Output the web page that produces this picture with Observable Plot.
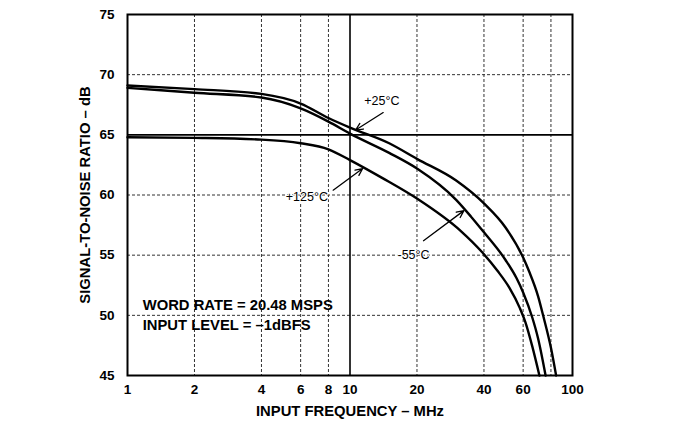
<!DOCTYPE html>
<html>
<head>
<meta charset="utf-8">
<script src="https://cdn.jsdelivr.net/npm/d3@7"></script>
<script src="https://cdn.jsdelivr.net/npm/@observablehq/plot@0.6"></script>
<style>
  html, body { margin: 0; padding: 0; background: #fff; }
  #chart svg { display: block; }
</style>
</head>
<body>
<div id="chart"></div>
<script>
// ---- data ----
const xTicks = [1, 2, 4, 6, 8, 10, 20, 40, 60, 100];
const xGridDashed = [2, 4, 6, 8, 20, 40, 60, 80];
const xGridSolid = [10];
const yTicks = [45, 50, 55, 60, 65, 70, 75];
const yGridDashed = [50, 55, 60, 70];
const yGridSolid = [65];

// +25°C
const freqP25 = [1, 2, 4, 6, 8, 10, 15, 20, 30, 40, 50, 60, 64, 70, 74, 80, 84.4];
const snrP25  = [69.1, 68.8, 68.4, 67.6, 66.4, 65.6, 64.3, 63.0, 61.2, 59.3, 57.3, 54.8, 53.6, 51.6, 49.9, 47.3, 45.0];
// -55°C
const freqM55 = [1, 2, 4, 6, 8, 10, 15, 20, 30, 35, 40, 50, 56, 60, 66, 70, 75.7];
const snrM55  = [68.9, 68.5, 68.1, 67.2, 66.1, 65.1, 63.5, 62.2, 59.6, 58.2, 56.9, 54.6, 53.1, 51.9, 49.8, 48.1, 45.0];
// +125°C
const freqP125 = [1, 2, 4, 6, 8, 10, 14, 20, 31.5, 39, 46, 52, 58, 61.5, 66, 71];
const snrP125  = [64.8, 64.75, 64.6, 64.3, 63.8, 62.9, 61.4, 59.7, 57.0, 55.3, 53.7, 52.3, 50.6, 49.4, 47.4, 45.0];

// annotation texts and anchor points (data units)
const labelTexts = ["+25°C", "+125°C", "-55°C"];
const labelFreq  = [13.9, 6.4, 19.3];
const labelSnr   = [67.85, 59.8, 55.0];
const arrowFrom  = [[14.1, 66.85], [8.4, 60.4], [21.4, 56.2]];
const arrowTo    = [[10.6, 65.4], [11.4, 62.2], [32.5, 58.7]];

const noteLines = ["WORD RATE = 20.48 MSPS", "INPUT LEVEL = –1dBFS"];
const noteFreq = 1.17;
const noteSnr = [50.8, 49.15];

const xTitle = "INPUT FREQUENCY – MHz";
const yTitle = "SIGNAL-TO-NOISE RATIO – dB";

// ---- tables ----
const toRows = (fs, vs) => fs.map((f, i) => ({f, v: vs[i]}));
const series = [toRows(freqP25, snrP25), toRows(freqM55, snrM55), toRows(freqP125, snrP125)];
const labels = labelTexts.map((t, i) => ({t, f: labelFreq[i], v: labelSnr[i]}));
const arrows = arrowFrom.map((a, i) => ({x1: a[0], y1: a[1], x2: arrowTo[i][0], y2: arrowTo[i][1]}));
const notes = noteLines.map((t, i) => ({t, f: noteFreq, v: noteSnr[i]}));

const font = "'Liberation Sans', Arial, Helvetica, sans-serif";

const chart = Plot.plot({
  width: 699,
  height: 427,
  marginLeft: 127,
  marginRight: 127,
  marginTop: 14,
  marginBottom: 52,
  style: {
    fontFamily: font,
    fontSize: "13.5px",
    fontWeight: "bold",
    color: "#000",
    background: "#fff",
    overflow: "visible"
  },
  x: {type: "log", domain: [1, 100], axis: null},
  y: {domain: [45, 75], ticks: yTicks, tickSize: 0, tickPadding: 13, label: null},
  marks: [
    Plot.ruleX(xGridDashed, {stroke: "#333", strokeWidth: 1, strokeDasharray: "3,2"}),
    Plot.ruleY(yGridDashed, {stroke: "#333", strokeWidth: 1, strokeDasharray: "3,2"}),
    Plot.ruleX(xGridSolid, {stroke: "#000", strokeWidth: 1.6}),
    Plot.ruleY(yGridSolid, {stroke: "#000", strokeWidth: 1.6}),
    ...series.map(s => Plot.line(s, {x: "f", y: "v", stroke: "#000", strokeWidth: 2.4, curve: "monotone-x"})),
    Plot.arrow(arrows, {x1: "x1", y1: "y1", x2: "x2", y2: "y2", stroke: "#000", strokeWidth: 1.3, headLength: 9, headAngle: 50}),
    Plot.text(labels, {x: "f", y: "v", text: "t", fill: "#000", fontSize: 12.5, fontWeight: "normal", stroke: "#fff", strokeWidth: 2}),
    Plot.text(notes, {x: "f", y: "v", text: "t", textAnchor: "start", fill: "#000", fontSize: 14.8, fontWeight: "bold"}),
    // x tick labels through the x scale
    Plot.text(xTicks, {x: d => d, text: d => String(d), frameAnchor: "bottom", dy: 18, textAnchor: "middle", fill: "#000", fontSize: 13.5, fontWeight: "bold"}),
    Plot.text([xTitle], {frameAnchor: "bottom", dy: 40, textAnchor: "middle", fill: "#000", fontSize: 14.8, fontWeight: "bold"}),
    Plot.text([yTitle], {frameAnchor: "left", rotate: -90, dx: -42, textAnchor: "middle", fill: "#000", fontSize: 14.8, fontWeight: "bold"}),
    Plot.frame({stroke: "#000", strokeWidth: 2})
  ]
});
document.getElementById("chart").appendChild(chart);
</script>
</body>
</html>
